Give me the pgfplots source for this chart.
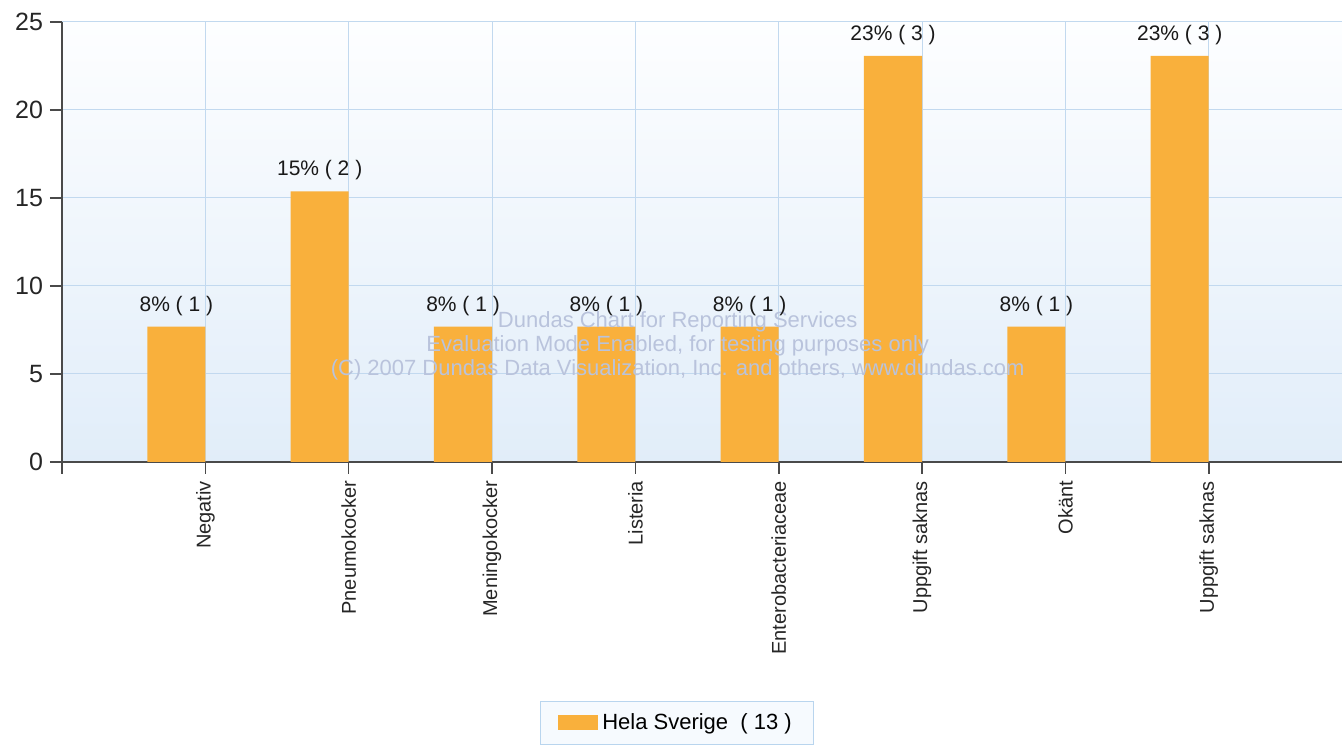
\documentclass[border=0pt]{standalone}
\usepackage{pgfplots}
\pgfplotsset{compat=1.18}
\usepackage{fontspec}
\setmainfont{Liberation Sans}
\definecolor{barc}{HTML}{F9B03C}
\definecolor{gridc}{HTML}{C2D9EF}
\definecolor{bgtop}{HTML}{FDFEFF}
\definecolor{bgbot}{HTML}{E1EDF9}
\definecolor{axisc}{HTML}{4A4A4A}
\definecolor{legc}{HTML}{B9D5EE}
\definecolor{legbg}{HTML}{F6FAFE}
\definecolor{wmc}{HTML}{B9C3DC}
\begin{document}
\begin{tikzpicture}
\useasboundingbox (-31pt,-142.5pt) rectangle (640pt,231pt);
\begin{axis}[
  scale only axis, width=640pt, height=220pt,
  xmin=0, xmax=8.93, ymin=0, ymax=25,
  axis x line*=bottom, axis y line*=left,
  axis line style={color=axisc, line width=0.8pt},
  xtick={0,1,...,8},
  xticklabels={,Negativ,Pneumokocker,Meningokocker,Listeria,Enterobacteriaceae,Uppgift saknas,Okänt,Uppgift saknas},
  ytick={0,5,...,25},
  grid=major, grid style={gridc, line width=0.5pt},
  tick align=outside, major tick length=6pt,
  tick style={color=axisc, line width=0.8pt},
  xticklabel style={rotate=90, anchor=east, font=\fontsize{10}{12}\selectfont, text=black!85},
  yticklabel style={font=\fontsize{12.5}{14}\selectfont, text=black!85},
  /pgf/number format/assume math mode=true,
  axis background/.style={shade, top color=bgtop, bottom color=bgbot},
  clip=false,
  legend style={at={(0.4805,-0.593)}, anchor=center, draw=legc, fill=legbg,
    font=\fontsize{11}{12}\selectfont, inner xsep=9pt, inner ysep=4pt,
    /tikz/every even column/.append style={column sep=5pt}},
  legend image code/.code={\fill[barc] (0pt,-3.75pt) rectangle (20pt,3.75pt);},
]
\addplot[ybar, fill=barc, draw=none, bar width=0.405, bar shift=-0.2025,
  nodes near coords, point meta=explicit symbolic,
  nodes near coords style={font=\fontsize{10.5}{12}\selectfont, anchor=south, yshift=2pt, xshift=-14.5pt, text=black!90}]
  coordinates {
  (1,7.69) [8\% ( 1 )]
  (2,15.38) [15\% ( 2 )]
  (3,7.69) [8\% ( 1 )]
  (4,7.69) [8\% ( 1 )]
  (5,7.69) [8\% ( 1 )]
  (6,23.08) [23\% ( 3 )]
  (7,7.69) [8\% ( 1 )]
  (8,23.08) [23\% ( 3 )]
  };
\addlegendentry{Hela Sverige\ \ ( 13 )}
\node[align=center, text=wmc, font=\fontsize{11}{12}\selectfont] at (rel axis cs:0.481,0.2636)
  {Dundas Chart for Reporting Services\\Evaluation Mode Enabled, for testing purposes only\\(C) 2007 Dundas Data Visualization, Inc. and others, www.dundas.com};
\end{axis}
\end{tikzpicture}
\end{document}
